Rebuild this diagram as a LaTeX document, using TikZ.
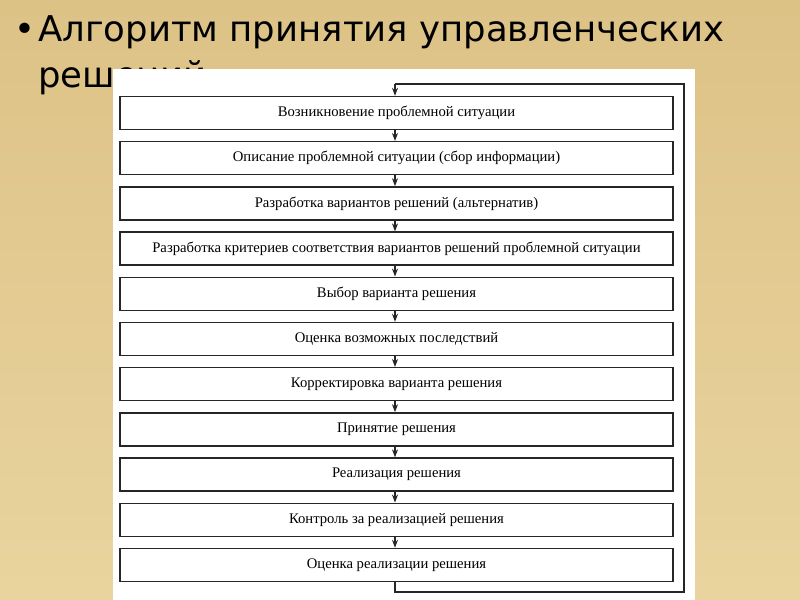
\documentclass[tikz,border=0pt]{standalone}
\usepackage{fontspec}
\setmainfont{Liberation Serif}
\newfontfamily\titlefont{DejaVu Sans}
\usetikzlibrary{arrows.meta}
\definecolor{parch}{HTML}{E9D49F}
\definecolor{parchtop}{HTML}{DDC286}
\definecolor{inkc}{HTML}{262626}
\tikzset{
  stepbox/.style={draw=inkc, line width=1.1pt, fill=white, minimum width=414.75pt, minimum height=24.75pt, inner sep=0pt, font=\fontsize{11}{13}\selectfont, text=black},
  flow/.style={draw=inkc, line width=0.9pt, -{Stealth[length=6pt,width=4.5pt]}},
  loopline/.style={draw=inkc, line width=0.9pt},
  ttl/.style={font=\titlefont\fontsize{26.6}{31}\selectfont, text=black, inner sep=0pt}
}
\begin{document}
\begin{tikzpicture}[x=0.75pt,y=-0.75pt]
\useasboundingbox (0,0) rectangle (800,600);
\shade[top color=parchtop, bottom color=parch] (0,0) rectangle (800,600);
\node[ttl, anchor=base west] (bul) at (14,41) {•};
\node[ttl, anchor=base west] (t1) at (38,41) {Алгоритм принятия управленческих};
\node[ttl, anchor=base west] (t2) at (38,87) {решений};
\fill[white] (113,69) rectangle (695,600);
\foreach \i/\t in {0/{Возникновение проблемной ситуации},
  1/{Описание проблемной ситуации (сбор информации)},
  2/{Разработка вариантов решений (альтернатив)},
  3/{Разработка критериев соответствия вариантов решений проблемной ситуации},
  4/{Выбор варианта решения},
  5/{Оценка возможных последствий},
  6/{Корректировка варианта решения},
  7/{Принятие решения},
  8/{Реализация решения},
  9/{Контроль за реализацией решения},
  10/{Оценка реализации решения}}{
  \node[stepbox] (b\i) at (396.5,{113+45.2*\i}) {\t};
}
\foreach \i [count=\j] in {0,...,9}{
  \draw[flow] (b\i.south -| 395,0) -- (b\j.north -| 395,0);
}
\coordinate (lb) at (395,592);
\coordinate (lr) at (684,592);
\coordinate (tr) at (684,84);
\coordinate (tl) at (395,84);
\draw[loopline] (b10.south -| 395,0) -- (lb) -- (lr) -- (tr) -- (tl);
\draw[flow] (tl) -- (b0.north -| 395,0);
\end{tikzpicture}
\end{document}
